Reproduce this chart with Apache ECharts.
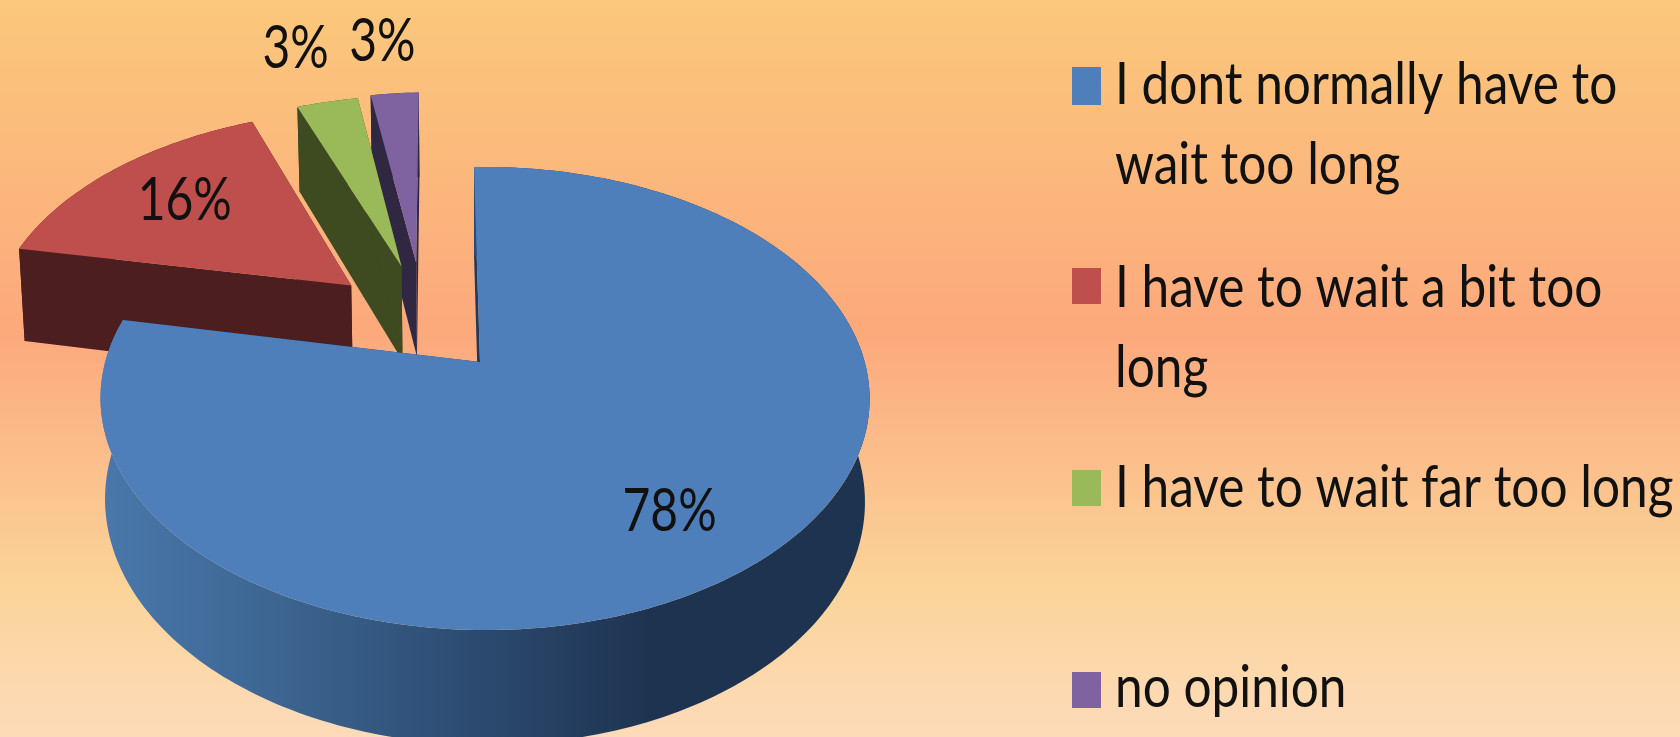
<!DOCTYPE html>
<html><head><meta charset="utf-8">
<style>html,body{margin:0;padding:0;overflow:hidden}#c{width:1680px;height:737px}</style>
<script src="https://cdn.jsdelivr.net/npm/echarts@6/dist/echarts.min.js"></script>
</head><body><div id="c"></div>
<script>
const categories = ["I dont normally have to\nwait too long","I have to wait a bit too\nlong","I have to wait far too long","no opinion"];
const values = [78.4,15.9,3.2,2.5];
const labels = ["78%","16%","3%","3%"];

const topColors = ["#4F7FBA","#BE4F4C","#9ABA59","#7F63A1"];
const sideColors = ["#1F3A5C","#4C1E1F","#3E4A20","#302743"];
const FONT = "Lato";

// view geometry of the tilted disc
const V = {cx:480, cy:362, R:379.7, ry:225.8, p:0.1576, q:0.013, depth:100, startDeg:-1.05};
const explode = [[0,0],[-0.360,-0.36],[-0.222,-0.455],[-0.181,-0.474]];
const labelAt = [[0.70,2,16],[0.70,4,-1],[1.35,-10,-5],[1.35,-6,-2]];

function project(X,Y){
  const s = 1/(1 - V.p*Y - V.q*X);
  return {x:V.cx + V.R*X*s, y:V.cy + V.ry*Y*s, s};
}
function topPt(phi,t,off){
  const X = Math.sin(phi)*t + off[0], Y = -Math.cos(phi)*t + off[1];
  const P = project(X,Y);
  return [P.x,P.y,P.s];
}
function lower(p){
  return [V.cx + (p[0]-V.cx)*0.988, p[1] + V.depth*Math.pow(p[2],0.8)];
}
const total = values.reduce((a,b)=>a+b,0);
const sideBlue = {type:'linear',x:100,y:0,x2:700,y2:0,global:true,colorStops:[
  {offset:0,color:'#4A78AC'},{offset:0.3,color:'#3C6590'},{offset:0.63,color:'#2C4A70'},{offset:0.92,color:'#1E3350'},{offset:1,color:'#1E3350'}]};

function renderSlice(params){
  const i = params.dataIndex;
  let before = 0; for(let k=0;k<i;k++) before += values[k];
  const a0 = (V.startDeg + before/total*360)*Math.PI/180;
  const a1 = (V.startDeg + (before+values[i])/total*360)*Math.PI/180;
  const off = explode[i];
  const arc = [];
  const n = Math.max(6,Math.ceil((a1-a0)/0.02));
  for(let k=0;k<=n;k++) arc.push(topPt(a0+(a1-a0)*k/n,1,off));
  const apex = topPt(0,0,off);
  const xy = p=>[p[0],p[1]];
  const z = (3-i)*10;
  const poly = (pts,fill,zz)=>({type:'polygon',z2:z+zz,shape:{points:pts},style:{fill}});
  const side = i===0 ? sideBlue : sideColors[i];
  const kids = [];
  const first = arc[0], last = arc[arc.length-1];
  kids.push(poly([xy(first),xy(apex),lower(apex),lower(first)],sideColors[i],0));
  kids.push(poly([xy(last),xy(apex),lower(apex),lower(last)],sideColors[i],0));
  kids.push(poly(arc.map(xy).concat(arc.slice().reverse().map(lower)),side,1));
  kids.push(poly([xy(apex)].concat(arc.map(xy)),topColors[i],2));
  const mid = (a0+a1)/2, L = labelAt[i];
  const lp = topPt(mid,L[0],off);
  kids.push({type:'text',z2:100,x:lp[0]+L[1],y:lp[1]+L[2],scaleX:0.8,
    style:{text:labels[i],fontFamily:FONT,fontSize:60,fill:'#111',align:'center',verticalAlign:'middle'}});
  return {type:'group',children:kids};
}

const legendRows = [{y:67,h:38,t:45},{y:268,h:36,t:248},{y:470,h:36,t:448},{y:672,h:36,t:648}];
const legendGraphic = [];
categories.forEach((c,i)=>{
  legendGraphic.push({type:'rect',shape:{x:1072,y:legendRows[i].y,width:29,height:legendRows[i].h},style:{fill:topColors[i]}});
  legendGraphic.push({type:'text',x:1115,y:legendRows[i].t,scaleX:0.84,
    style:{text:c,fontFamily:FONT,fontSize:59,lineHeight:80,fill:'#111',align:'left',verticalAlign:'top'}});
});

const chart = echarts.init(document.getElementById('c'),null,{renderer:'canvas'});
chart.setOption({
  animation:false,
  backgroundColor:{type:'linear',x:0,y:0,x2:0,y2:1,colorStops:[
    {offset:0,color:'#FBC87C'},{offset:0.45,color:'#FCA97C'},{offset:0.8,color:'#FBD49A'},{offset:1,color:'#FDDBBA'}]},
  graphic:legendGraphic,
  series:[{type:'custom',coordinateSystem:'none',renderItem:renderSlice,silent:true,
    clip:false,data:values.map((v,i)=>({name:categories[i],value:v}))}]
});
</script></body></html>
